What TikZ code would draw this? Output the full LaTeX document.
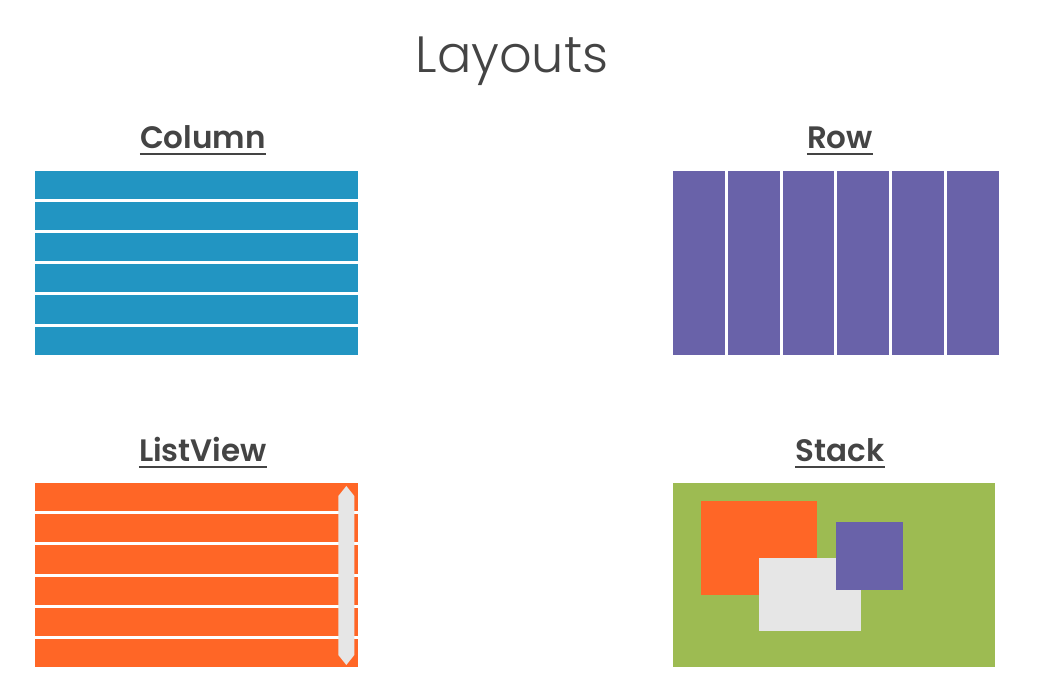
\documentclass[tikz,border=0pt]{standalone}
\usepackage{fontspec}
\setmainfont{Poppins}
\newfontfamily\titlefont{Poppins Light}
\newfontfamily\headfont{Poppins SemiBold}
\usepackage{xcolor}

\begin{document}
\begin{tikzpicture}[x=1pt,y=-1pt,
  heading/.style={anchor=base,inner sep=0pt,text=inkgray,font=\headfont\fontsize{31}{31}\selectfont},
  uline/.style={draw=inkgray,line width=2pt}]
\definecolor{inkgray}{HTML}{444444}
\definecolor{colblue}{HTML}{2295C2}
\definecolor{rowpurple}{HTML}{6962A9}
\definecolor{listorange}{HTML}{FF6626}
\definecolor{stackgreen}{HTML}{9DBB52}
\definecolor{paleGray}{HTML}{E6E6E6}
\useasboundingbox[fill=white] (0,0) rectangle (1042,692);
\node[anchor=base,inner sep=0pt,text=inkgray,font=\titlefont\fontsize{51}{51}\selectfont] (title) at (512,73) {Layouts};
% headings with their rules
\foreach \nm/\txt/\px/\py in {col/Column/203/149,row/Row/840/149,list/ListView/203/462,stack/Stack/840/462}
  { \node[heading] (\nm) at (\px,\py) {\txt};
    \draw[uline] ([yshift=-5pt]\nm.base west) -- ([yshift=-5pt]\nm.base east); }
% column
\foreach \i in {0,...,5}
  { \fill[colblue] (35,170.7+31.2*\i) rectangle (358,198.9+31.2*\i);}
% row
\foreach \i in {0,...,5}
  { \fill[rowpurple] (672.7+54.93*\i,170.7) rectangle (724.6+54.93*\i,355);}
% listview
\foreach \i in {0,...,5}
  { \fill[listorange] (35,482.7+31.27*\i) rectangle (358.3,511+31.27*\i);}
\fill[paleGray] (346.3,486) -- (354.3,496) -- (354.3,655) -- (346.3,665) -- (338.3,655) -- (338.3,496) -- cycle;
% stack
\fill[stackgreen] (672.7,482.7) rectangle (995,667.3);
\fill[listorange] (700.7,500.7) rectangle (816.7,595);
\fill[paleGray] (759.3,557.7) rectangle (860.7,631);
\fill[rowpurple] (836,522.3) rectangle (903.3,590);
\end{tikzpicture}
\end{document}
